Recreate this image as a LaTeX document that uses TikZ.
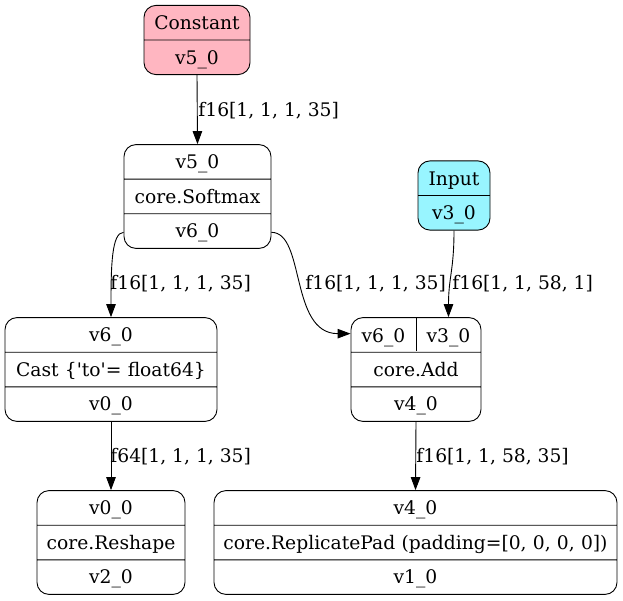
\documentclass[tikz,border=0pt]{standalone}
\usepackage{fontspec}
\setmainfont{DejaVu Serif}[Ligatures=TeXOff]
\usetikzlibrary{shapes.multipart, arrows.meta}
\definecolor{cpink}{HTML}{FFB6C1}
\definecolor{ccyan}{HTML}{98F5FF}
\newcommand{\fld}{\rule[-10pt]{0pt}{33.7pt}}

\begin{document}
\begin{tikzpicture}[x=1pt,y=-1pt,line width=0.9pt,
  rec/.style={rectangle split,draw,rounded corners=12pt,inner xsep=0pt,inner ysep=0pt,
    align=center,font=\fontsize{18.7}{22}\selectfont},
  port/.style={inner sep=0pt,font=\fontsize{18.7}{22}\selectfont},
  lbl/.style={anchor=west,inner sep=0pt,font=\fontsize{18.7}{22}\selectfont},
  >={Triangle[length=13pt,width=9.5pt]}]
\useasboundingbox (0,0) rectangle (623,601);

\node[rec,rectangle split parts=2,text width=106pt,fill=cpink](const) at (197,40) {\fld Constant\nodepart{two}\fld v5\_0};
\node[rec,rectangle split parts=3,text width=147pt](sm) at (197.5,196.5) {\fld v5\_0\nodepart{two}\fld core.Softmax\nodepart{three}\fld v6\_0};
\node[rec,rectangle split parts=2,text width=72pt,fill=ccyan](inp) at (454,195.5) {\fld Input\nodepart{two}\fld v3\_0};
\node[rec,rectangle split parts=3,text width=212pt](cast) at (111,369.5) {\fld v6\_0\nodepart{two}\fld Cast \{'to'= float64\}\nodepart{three}\fld v0\_0};
\node[rec,rectangle split parts=3,text width=130pt](add) at (416,369.5) {\fld\nodepart{two}\fld core.Add\nodepart{three}\fld v4\_0};
\node[port](a6) at (383.5,335.5) {\fld v6\_0};
\node[port](a3) at (448.5,335.5) {\fld v3\_0};
\draw (add.north) -- ([yshift=-33.7pt]add.north);
\node[rec,rectangle split parts=3,text width=148pt](resh) at (111,542.5) {\fld v0\_0\nodepart{two}\fld core.Reshape\nodepart{three}\fld v2\_0};
\node[rec,rectangle split parts=3,text width=403pt](pad) at (415.5,542.5) {\fld v4\_0\nodepart{two}\fld core.ReplicatePad (padding=[0, 0, 0, 0])\nodepart{three}\fld v1\_0};

\node[lbl](l1) at (198,111) {f16[1, 1, 1, 35]};
\node[lbl](l2) at (110,284) {f16[1, 1, 1, 35]};
\node[lbl](l3) at (305,284) {f16[1, 1, 1, 35]};
\node[lbl](l4) at (452,284) {f16[1, 1, 58, 1]};
\node[lbl](l5) at (110,457) {f64[1, 1, 1, 35]};
\node[lbl](l6) at (416,457) {f16[1, 1, 58, 35]};

\draw[->] (const.south) -- (sm.north);
\draw[->] ([yshift=16.5pt]sm.south west) .. controls +(-12,0) and +(0,-50) .. (cast.north);
\draw[->] ([yshift=16.5pt]sm.south east) .. controls +(34,0) and +(-61,0) .. ([yshift=-16.5pt]add.north west);
\draw[->] (inp.south) .. controls +(0,40) and +(0,-40) .. ([xshift=32.5pt]add.north);
\draw[->] (cast.south) -- (resh.north);
\draw[->] (add.south) -- (pad.north);
\end{tikzpicture}
\end{document}
